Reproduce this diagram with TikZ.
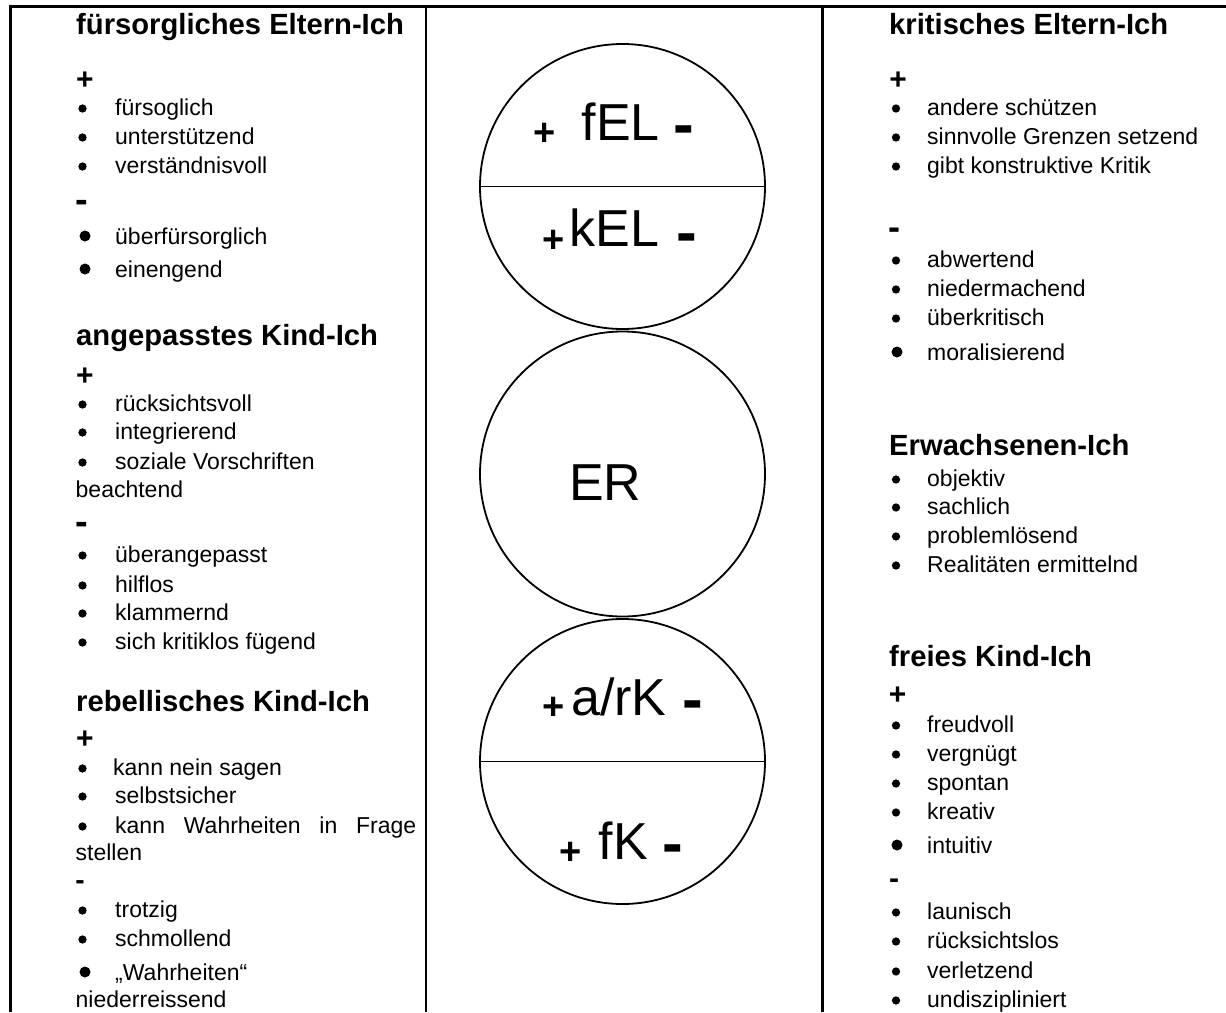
\documentclass[tikz,border=0pt]{standalone}
\usepackage{fontspec}
\setmainfont{Liberation Sans}
\begin{document}
\begin{tikzpicture}[x=1pt,y=-1pt,
  frame/.style={line width=2.4pt},
  ego/.style={circle, draw, line width=1.8pt, minimum size=285pt, inner sep=0pt},
  divider/.style={line width=1.8pt},
  hd/.style={anchor=base west, inner sep=0pt, font=\bfseries\fontsize{29.2}{34}\selectfont},
  txt/.style={anchor=base west, inner sep=0pt, font=\fontsize{23}{28}\selectfont},
  sgn/.style={anchor=base, inner sep=0pt, font=\bfseries\fontsize{#1}{#1}\selectfont},
  lbl/.style={anchor=base west, inner sep=0pt, font=\fontsize{52}{60}\selectfont},
  bul/.style={circle, fill, inner sep=0pt, minimum size=8.3pt},
  bigbul/.style={circle, fill, inner sep=0pt, minimum size=11pt}]
\useasboundingbox (0,0) rectangle (1226,1012);
% frame
\coordinate (tr) at (1226,6.5);
\coordinate (tl) at (10.5,6.5);
\coordinate (bl) at (10.5,1012);
\coordinate (m1t) at (425.8,6.5);
\coordinate (m1b) at (425.8,1012);
\coordinate (m2t) at (822.5,6.5);
\coordinate (m2b) at (822.5,1012);
\draw[frame] (tr) -- (tl) -- (bl);
\draw[frame] (m1t) -- (m1b);
\draw[frame] (m2t) -- (m2b);

% left column
\node[hd] (lh1) at (76,34) {fürsorgliches Eltern-Ich};
\node[sgn=30] (lp1) at (84.8,89.5) {+};
\node[bul] (lb1) at (82.5,108.5) {}; \node[txt] (lt1) at (115,115) {fürsoglich};
\node[bul] (lb2) at (82.5,137.5) {}; \node[txt] (lt2) at (115,144) {unterstützend};
\node[bul] (lb3) at (82.5,166.5) {}; \node[txt] (lt3) at (115,173) {verständnisvoll};
\node[sgn=38] (lm1) at (82.3,212.5) {-};
\node[bigbul] (lb4) at (85,236) {}; \node[txt] (lt4) at (115,244) {überfürsorglich};
\node[bigbul] (lb5) at (85,269) {}; \node[txt] (lt5) at (115,277) {einengend};

\node[hd] (lh2) at (76,345) {angepasstes Kind-Ich};
\node[sgn=30] (lp2) at (84.8,385.2) {+};
\node[bul] (lb6) at (82.5,404.5) {}; \node[txt] (lt6) at (115,411) {rücksichtsvoll};
\node[bul] (lb7) at (82.5,432.5) {}; \node[txt] (lt7) at (115,439) {integrierend};
\node[bul] (lb8) at (82.5,462.5) {}; \node[txt] (lt8) at (115,469) {soziale Vorschriften};
\node[txt] (lt9) at (75.5,497) {beachtend};
\node[sgn=38] (lm2) at (82,534.2) {-};
\node[bul] (lb9) at (82.5,555.5) {}; \node[txt] (lt10) at (115,562) {überangepasst};
\node[bul] (lb10) at (82.5,585.5) {}; \node[txt] (lt11) at (115,592) {hilflos};
\node[bul] (lb11) at (82.5,613.5) {}; \node[txt] (lt12) at (115,620) {klammernd};
\node[bul] (lb12) at (82.5,642.5) {}; \node[txt] (lt13) at (115,649) {sich kritiklos fügend};

\node[hd] (lh3) at (76,711) {rebellisches Kind-Ich};
\node[sgn=30] (lp3) at (84.8,748.8) {+};
\node[bul] (lb13) at (82.5,768.5) {}; \node[txt] (lt14) at (113,775) {kann nein sagen};
\node[bul] (lb14) at (82.5,796.5) {}; \node[txt] (lt15) at (115,803) {selbstsicher};
\node[bul] (lb15) at (82.5,826.5) {}; \node[txt] (lt16) at (115,833) {\makebox[301pt][s]{kann Wahrheiten in Frage}};
\node[txt] (lt17) at (75.5,860) {stellen};
\node[sgn=28] (lm3) at (80,889.5) {-};
\node[bul] (lb16) at (82.5,910.5) {}; \node[txt] (lt18) at (115,917) {trotzig};
\node[bul] (lb17) at (82.5,939.5) {}; \node[txt] (lt19) at (115,946) {schmollend};
\node[bigbul] (lb18) at (85,972) {}; \node[txt] (lt20) at (115,980) {„Wahrheiten“};
\node[txt] (lt21) at (75.5,1007) {niederreissend};

% right column
\node[hd] (rh1) at (889,34) {kritisches Eltern-Ich};
\node[sgn=30] (rp1) at (898,89.5) {+};
\node[bul] (rb1) at (896,108.5) {}; \node[txt] (rt1) at (927,115) {andere schützen};
\node[bul] (rb2) at (896,137.5) {}; \node[txt] (rt2) at (927,144) {sinnvolle Grenzen setzend};
\node[bul] (rb3) at (896,166.5) {}; \node[txt] (rt3) at (927,173) {gibt konstruktive Kritik};
\node[sgn=36] (rm1) at (894.7,239) {-};
\node[bul] (rb4) at (896,260.5) {}; \node[txt] (rt4) at (927,267) {abwertend};
\node[bul] (rb5) at (896,289.5) {}; \node[txt] (rt5) at (927,296) {niedermachend};
\node[bul] (rb6) at (896,318.5) {}; \node[txt] (rt6) at (927,325) {überkritisch};
\node[bigbul] (rb7) at (897,352) {}; \node[txt] (rt7) at (927,360) {moralisierend};

\node[hd] (rh2) at (889,455) {Erwachsenen-Ich};
\node[bul] (rb8) at (896,479.5) {}; \node[txt] (rt8) at (927,486) {objektiv};
\node[bul] (rb9) at (896,507.5) {}; \node[txt] (rt9) at (927,514) {sachlich};
\node[bul] (rb10) at (896,536.5) {}; \node[txt] (rt10) at (927,543) {problemlösend};
\node[bul] (rb11) at (896,565.5) {}; \node[txt] (rt11) at (927,572) {Realitäten ermittelnd};

\node[hd] (rh3) at (889,666) {freies Kind-Ich};
\node[sgn=30] (rp2) at (897.5,704) {+};
\node[bul] (rb12) at (896,725.5) {}; \node[txt] (rt12) at (927,732) {freudvoll};
\node[bul] (rb13) at (896,754.5) {}; \node[txt] (rt13) at (927,761) {vergnügt};
\node[bul] (rb14) at (896,783.5) {}; \node[txt] (rt14) at (927,790) {spontan};
\node[bul] (rb15) at (896,812.5) {}; \node[txt] (rt15) at (927,819) {kreativ};
\node[bigbul] (rb16) at (897,845) {}; \node[txt] (rt16) at (927,853) {intuitiv};
\node[sgn=30] (rm2) at (894,888.6) {-};
\node[bul] (rb17) at (896,912.5) {}; \node[txt] (rt17) at (927,919) {launisch};
\node[bul] (rb18) at (896,941.5) {}; \node[txt] (rt18) at (927,948) {rücksichtslos};
\node[bul] (rb19) at (896,971.5) {}; \node[txt] (rt19) at (927,978) {verletzend};
\node[bul] (rb20) at (896,1000.5) {}; \node[txt] (rt20) at (927,1007) {undiszipliniert};

% circles
\node[ego] (top) at (622.5,186.5) {};
\node[ego] (er) at (622.5,474) {};
\node[ego] (bot) at (622.5,761.5) {};
\draw[divider] (top.west) -- (top.east);
\draw[divider] (bot.west) -- (bot.east);

\node[lbl] (fel) at (581.5,140) {fEL};
\node[sgn=38] (felp) at (545,145) {+};
\node[sgn=62] (felm) at (684,145.8) {-};
\node[lbl] (kel) at (569.5,246.7) {kEL};
\node[sgn=38] (kelp) at (554,252) {+};
\node[sgn=62] (kelm) at (687,253.5) {-};
\node[lbl] (ern) at (569,500) {ER};
\node[lbl] (ark) at (571,715) {a/rK};
\node[sgn=38] (arkp) at (553.8,719.6) {+};
\node[sgn=62] (arkm) at (693.3,720.5) {-};
\node[lbl] (fk) at (598.5,859) {fK};
\node[sgn=38] (fkp) at (571,864.6) {+};
\node[sgn=62] (fkm) at (672.5,864) {-};
\end{tikzpicture}
\end{document}
